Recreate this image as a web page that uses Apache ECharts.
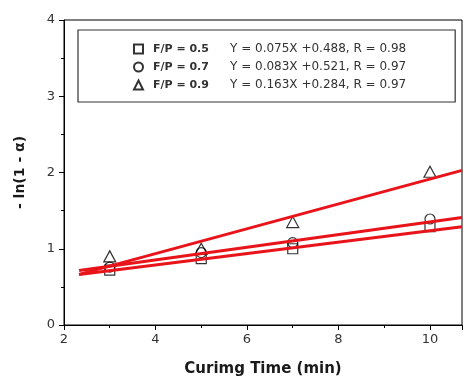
<!DOCTYPE html>
<html><head><meta charset="utf-8">
<script src="https://cdn.jsdelivr.net/npm/echarts@6/dist/echarts.min.js"></script>
<style>html,body{margin:0;padding:0;background:#fff}#c{width:467px;height:382px}</style>
</head><body><div id="c"></div>
<script>
const xTimes = [3, 5, 7, 10];
const fp05 = [0.72, 0.87, 1.0, 1.29];
const fp07 = [0.76, 0.95, 1.08, 1.39];
const fp09 = [0.9, 1.0, 1.35, 2.01];
const seriesNames = ['F/P = 0.5', 'F/P = 0.7', 'F/P = 0.9'];
const equations = ['Y = 0.075X +0.488, R = 0.98', 'Y = 0.083X +0.521, R = 0.97', 'Y = 0.163X +0.284, R = 0.97'];
const fitX = [2.33, 10.7];
const fit05 = [0.663, 1.29];
const fit07 = [0.714, 1.409];
const fit09 = [0.664, 2.028];
const symbols = ['rect', 'circle', 'triangle'];

const pts = arr => xTimes.map((x, i) => [x, arr[i]]);
const fitPts = arr => fitX.map((x, i) => [x, arr[i]]);
const font = '"DejaVu Sans", sans-serif';

const chart = echarts.init(document.getElementById('c'));
const scatter = [fp05, fp07, fp09].map((d, i) => ({
  name: seriesNames[i], type: 'scatter', data: pts(d), symbol: symbols[i],
  symbolSize: i === 2 ? [12, 11] : 10, z: 3,
  itemStyle: { color: 'rgba(255,255,255,0)', borderColor: '#000', borderWidth: 1.2 }
}));
const lines = [fit05, fit07, fit09].map((d, i) => ({
  name: 'fit' + i, type: 'line', data: fitPts(d), symbol: 'none', z: 4,
  lineStyle: { color: '#e8141a', width: 3 }
}));
chart.setOption({
  animation: false,
  textStyle: { fontFamily: font },
  grid: { left: 64, right: 5, top: 20, bottom: 55, show: true, borderColor: '#000', borderWidth: 1 },
  xAxis: {
    type: 'value', min: 2, max: 10.7, interval: 2,
    name: 'Curimg Time (min)', nameLocation: 'middle', nameGap: 37,
    nameTextStyle: { fontSize: 15, fontWeight: 'bold', color: '#1a1a1a', fontFamily: font },
    axisLine: { lineStyle: { color: '#000', width: 1 } },
    axisTick: { length: 5, lineStyle: { color: '#000' } },
    minorTick: { show: true, splitNumber: 2, length: 3, lineStyle: { color: '#000' } },
    axisLabel: { fontSize: 13, color: '#333', margin: 8, showMaxLabel: false, fontFamily: font,
      formatter: v => (v % 2 === 0 ? v : '') },
    splitLine: { show: false }
  },
  yAxis: {
    type: 'value', min: 0, max: 4, interval: 1,
    name: '- ln(1 - \u03b1)', nameLocation: 'middle', nameGap: 37,
    nameTextStyle: { fontSize: 14, fontWeight: 'bold', color: '#1a1a1a', fontFamily: font },
    axisLine: { lineStyle: { color: '#000', width: 1 } },
    axisTick: { length: 5, lineStyle: { color: '#000' } },
    minorTick: { show: true, splitNumber: 2, length: 3, lineStyle: { color: '#000' } },
    axisLabel: { fontSize: 13, color: '#333', margin: 9, fontFamily: font },
    splitLine: { show: false }
  },
  legend: {
    data: seriesNames.map((n, i) => ({ name: n, icon: i === 0 ? 'rect' : (i === 1 ? 'circle' : 'triangle') })),
    orient: 'vertical', left: 78, top: 30,
    padding: [13, 49, 11, 55], itemGap: 6, itemWidth: 9, itemHeight: 9,
    borderColor: '#333', borderWidth: 1.2,
    formatter: n => '{b|' + n + '}{e|' + equations[seriesNames.indexOf(n)] + '}',
    textStyle: {
      rich: {
        b: { fontSize: 11, fontWeight: 'bold', color: '#333', padding: [0, 0, 0, 5], width: 77, height: 14, fontFamily: font },
        e: { fontSize: 12, color: '#333', height: 14, fontFamily: font }
      }
    }
  },
  series: [...scatter, ...lines]
});
</script></body></html>
